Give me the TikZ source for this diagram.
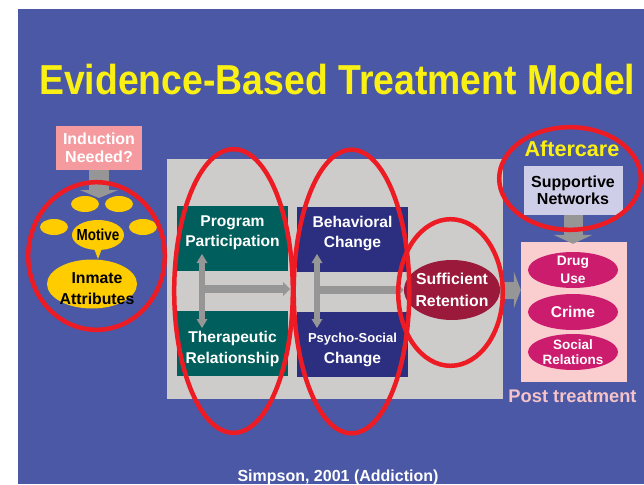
\documentclass[tikz,border=0pt]{standalone}
\usepackage{graphicx}
\usepackage{fontspec}
\setmainfont{Liberation Sans}
\usetikzlibrary{shapes.geometric,shapes.callouts,arrows.meta}

\definecolor{slideblue}{RGB}{74,88,166}
\definecolor{titleyellow}{RGB}{250,240,20}
\definecolor{indpink}{RGB}{245,155,160}
\definecolor{attyellow}{RGB}{255,204,0}
\definecolor{hired}{RGB}{237,28,36}
\definecolor{coregray}{RGB}{205,204,202}
\definecolor{tealbox}{RGB}{0,95,92}
\definecolor{navybox}{RGB}{44,46,128}
\definecolor{retred}{RGB}{155,25,58}
\definecolor{arrowgray}{RGB}{150,150,150}
\definecolor{lavender}{RGB}{206,206,232}
\definecolor{postpink}{RGB}{250,206,206}
\definecolor{outmag}{RGB}{204,28,110}
\definecolor{posttext}{RGB}{245,195,200}

\newcommand{\bffs}[2]{\fontsize{#1}{#2}\selectfont\bfseries}

\begin{document}
\begin{tikzpicture}[x=1pt, y=-1pt,
    every node/.style={inner sep=0pt, align=center},
    box/.style={rectangle, minimum width=111pt, minimum height=65pt},
    boxtext/.style={text=white, font=\bffs{15.6}{20.5}},
    dot/.style={ellipse, fill=attyellow, minimum width=28pt, minimum height=16pt},
    outc/.style={ellipse, fill=outmag, text=white, minimum width=90pt, minimum height=36pt, inner sep=-20pt},
    fatarrow/.style={draw=arrowgray},
    hilite/.style={draw=hired, line width=4.5pt}]
  \useasboundingbox (0,0) rectangle (644,484);
  \fill[white] (0,0) rectangle (644,484);
  \fill[slideblue] (18,9) rectangle (644,484);

  \node[anchor=base west, text=titleyellow, font=\bffs{41.9}{44}] (title) at (39,95)
    {\scalebox{0.892}[1]{Evidence-Based Treatment Model}};

  % inmate side
  \node[fill=indpink, minimum width=86pt, minimum height=44pt, text=white, font=\bffs{16}{18}] (ind) at (99,148) {Induction\\Needed?};
  \coordinate (indtip) at (99,198);
  \draw[fatarrow, line width=20pt, -{Triangle[width=38pt,length=8pt,line width=0pt]}] (ind.south) -- (indtip);
  \node[dot] (m1) at (85,204) {};
  \node[dot] (m2) at (119,204) {};
  \node[dot] (m3) at (54,227) {};
  \node[dot] (m4) at (143,227) {};
  \node[ellipse callout, fill=attyellow, minimum width=52pt, minimum height=30pt, inner sep=-10pt,
    callout absolute pointer={(98,259)}, font=\bffs{16}{17}] (motive) at (98,235) {\scalebox{0.84}[1]{Motive}};
  \node[ellipse, fill=attyellow, minimum width=90pt, minimum height=49pt, inner sep=-20pt,
    label={[font=\bffs{15.8}{21}, xshift=5pt, yshift=-5pt]center:Inmate\\Attributes}] (inm) at (92,284) {};

  % treatment
  \node[fill=coregray, minimum width=336pt, minimum height=240pt] (core) at (335,279) {};
  \node[box, fill=tealbox, label={[boxtext, yshift=6pt]center:Program\\Participation}] (prog) at (232.5,238.5) {};
  \node[box, fill=tealbox, label={[boxtext, yshift=-6pt]center:Therapeutic\\Relationship}] (ther) at (232.5,343) {};
  \node[box, fill=navybox, label={[boxtext, yshift=6pt]center:Behavioral\\Change}] (beh) at (352.5,239.5) {};
  \node[box, fill=navybox, label={[boxtext, yshift=-6pt]center:{\fontsize{13}{20}\selectfont Psycho-Social}\\Change}] (psy) at (352.5,344) {};
  \node[ellipse, fill=retred, minimum width=96pt, minimum height=60pt, inner sep=-20pt,
    text=white, font=\bffs{15.8}{22}] (ret) at (452,290) {Sufficient\\Retention};

  \coordinate (pt) at (202,254);
  \coordinate (pb) at (202,328);
  \coordinate (ph) at (202,289);
  \coordinate (phend) at (290,289);
  \draw[fatarrow, line width=6pt, {Triangle[width=11pt,length=9pt,line width=0pt]}-{Triangle[width=11pt,length=9pt,line width=0pt]}] (pt) -- (pb);
  \draw[fatarrow, line width=8pt, -{Triangle[width=14pt,length=7pt,line width=0pt]}] (ph) -- (phend);
  \coordinate (qt) at (317,254);
  \coordinate (qb) at (317,328);
  \coordinate (qh) at (317,290);
  \draw[fatarrow, line width=6pt, {Triangle[width=11pt,length=9pt,line width=0pt]}-{Triangle[width=11pt,length=9pt,line width=0pt]}] (qt) -- (qb);
  \draw[fatarrow, line width=8pt, -{Triangle[width=14pt,length=7pt,line width=0pt]}] (qh) -- (ret.west);

  % after treatment
  \node[text=titleyellow, font=\bffs{21.6}{24}] (after) at (572,149) {Aftercare};
  \node[fill=lavender, minimum width=99pt, minimum height=49pt, font=\bffs{16}{17}] (sup) at (573,190.5) {Supportive\\Networks};
  \node[fill=postpink, minimum width=106pt, minimum height=140pt] (post) at (574,312) {};
  \node[outc, font=\bffs{13.8}{18}] (drug) at (573,270) {Drug\\Use};
  \node[outc, font=\bffs{15.6}{18}] (crime) at (573,312) {Crime};
  \node[outc, font=\bffs{13.5}{15}] (social) at (573,352) {Social\\Relations};
  \node[text=posttext, font=\bffs{18.3}{20}] (ptlabel) at (572.5,396.5) {Post treatment};
  \draw[fatarrow, line width=19pt, -{Triangle[width=39pt,length=9pt,line width=0pt]}] (sup.south) -- ([yshift=-2pt]sup.south |- post.north);
  \draw[fatarrow, line width=17pt, -{Triangle[width=37pt,length=7pt,line width=0pt]}] (ret.east) -- (ret -| post.west);

  \node[anchor=base, text=white, font=\bffs{16}{18}] (cite) at (338,481.5) {Simpson, 2001 (Addiction)};

  % red marks
  \draw[hilite] (96.5,256) ellipse (68.3pt and 73.8pt);
  \draw[hilite] (233.5,291) ellipse (59.3pt and 141.8pt);
  \draw[hilite] (351.5,291.5) ellipse (57.8pt and 141.8pt);
  \draw[hilite] (450.5,292.5) ellipse (52.3pt and 73.3pt);
  \draw[hilite] (570,178.5) ellipse (70.8pt and 51.3pt);
\end{tikzpicture}
\end{document}
